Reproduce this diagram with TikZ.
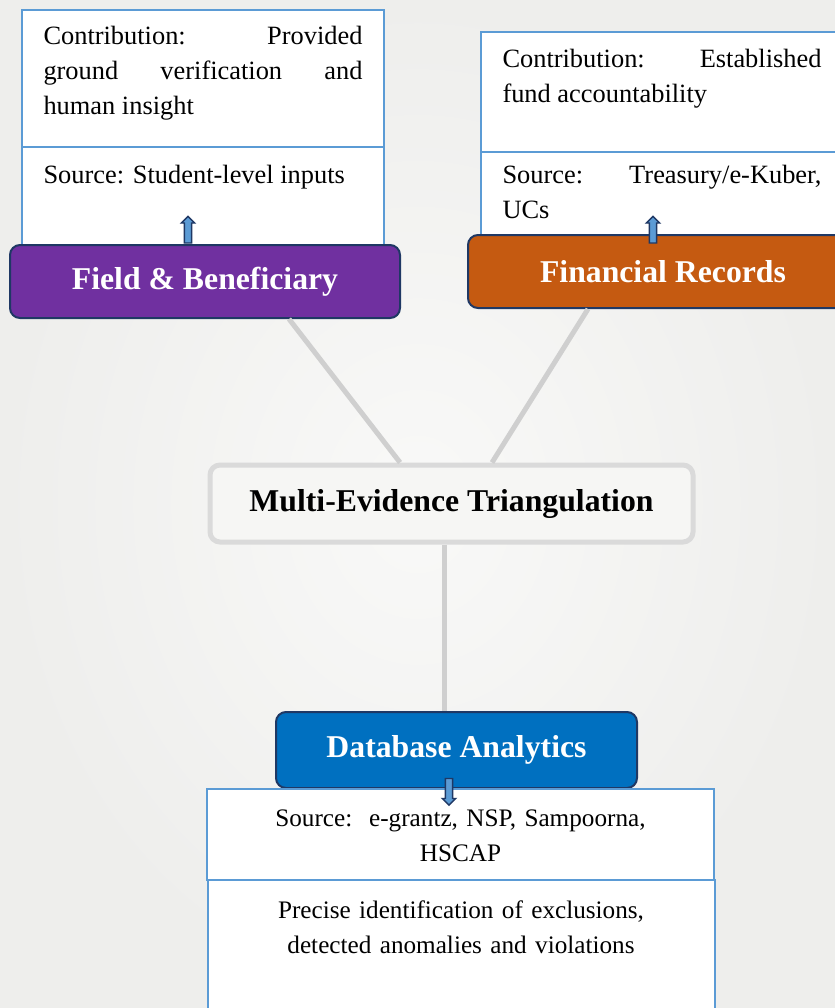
\documentclass[tikz,border=0pt]{standalone}
\usepackage{fontspec}
\setmainfont{Liberation Serif}
\usetikzlibrary{positioning,shapes.arrows,calc}
\definecolor{cellblue}{HTML}{5B9BD5}
\definecolor{fieldpurple}{HTML}{7030A0}
\definecolor{finorange}{HTML}{C55A11}
\definecolor{dbblue}{HTML}{0070C0}
\definecolor{navyedge}{HTML}{1F3864}
\definecolor{hubedge}{HTML}{DADADA}
\definecolor{hubfill}{HTML}{F6F6F4}
\definecolor{linkgray}{HTML}{CFCFCF}
\definecolor{bgin}{HTML}{F9F9F8}
\definecolor{bgout}{HTML}{EEEEEC}

\begin{document}
\begin{tikzpicture}[x=0.75pt, y=-0.75pt,
  cell/.style={rectangle, draw=cellblue, line width=1.5pt, fill=white,
               inner xsep=16.1pt, inner ysep=0pt, text width=239.25pt, align=justify,
               font=\fontsize{19.8}{26.6}\selectfont},
  midcell/.style={cell, inner xsep=10pt, text width=360.25pt, align=center,
                  font=\fontsize{18.9}{26.3}\selectfont},
  head/.style={rectangle, rounded corners=7.5pt, draw=navyedge, line width=1.5pt,
               fill=#1, text=white, font=\fontsize{23.8}{28}\selectfont\bfseries,
               minimum width=292.5pt, minimum height=54.75pt},
  hub/.style={rectangle, rounded corners=7.5pt, draw=hubedge, line width=3.75pt,
              fill=hubfill, font=\fontsize{23.8}{28}\selectfont\bfseries,
              minimum width=362.25pt, minimum height=57.75pt},
  link/.style={draw=linkgray, line width=3.75pt},
  tip/.style={single arrow, draw=navyedge, fill=cellblue, line width=1pt,
              minimum height=20pt, minimum width=9pt, inner sep=2.2pt,
              single arrow head extend=2.3pt, rotate=#1},
]
\useasboundingbox (0,0) rectangle (835,1008);
\clip (0,0) rectangle (835,1008);
\shade[inner color=bgin, outer color=bgout] (0,0) rectangle (835,1008);

% upper left stack
\node[cell, text height=25.5pt, text depth=77.25pt] (fbcontrib) at (203,78.5)
  {Contribution: Provided\linebreak ground verification and\linebreak human insight};
\node[cell, text height=27pt, text depth=46.5pt] (fbsource) at (203,196)
  {Source: Student-level inputs};
\node[head=fieldpurple] (field) at (205,281.5) {Field \& Beneficiary};

% upper right stack
\node[cell, text height=26.25pt, text depth=63.75pt] (frcontrib) at (662,92)
  {Contribution: Established\linebreak fund accountability};
\node[cell, text height=23.25pt, text depth=39pt] (frsource) at (662,193.5)
  {Source: Treasury/e-Kuber,\linebreak UCs};
\node[head=finorange] (finance) at (663,271.5) {Financial Records};

% centre
\node[hub] (hub) at (451.5,503.5) {Multi-Evidence Triangulation};

\draw[link] ([xshift=63pt]field.south) -- ([xshift=-38.6pt]hub.north);
\draw[link] ([xshift=-56.25pt]finance.south) -- ([xshift=30.4pt]hub.north);

% lower stack
\node[head=dbblue, minimum width=270.75pt, minimum height=57pt] (db) at (456.5,750) {Database Analytics};
\draw[link] ([xshift=-5pt]hub.south) -- ([xshift=-5pt]hub.south |- db.north);
\node[midcell, text height=27.75pt, text depth=40.5pt] (dbsource) at (460.5,834.5)
  {Source:\ \ e-grantz, NSP, Sampoorna,\\ HSCAP};
\node[midcell, text height=28.5pt, text depth=72.75pt] (dbresult) at (461,947.5)
  {Precise identification of exclusions,\\ detected anomalies and violations};

% small arrows
\node[tip=90] (fbtip) at (188,231.5) {};
\node[tip=90] (frtip) at (653,231.5) {};
\node[tip=-90] (dbtip) at (449,790) {};
\end{tikzpicture}
\end{document}
